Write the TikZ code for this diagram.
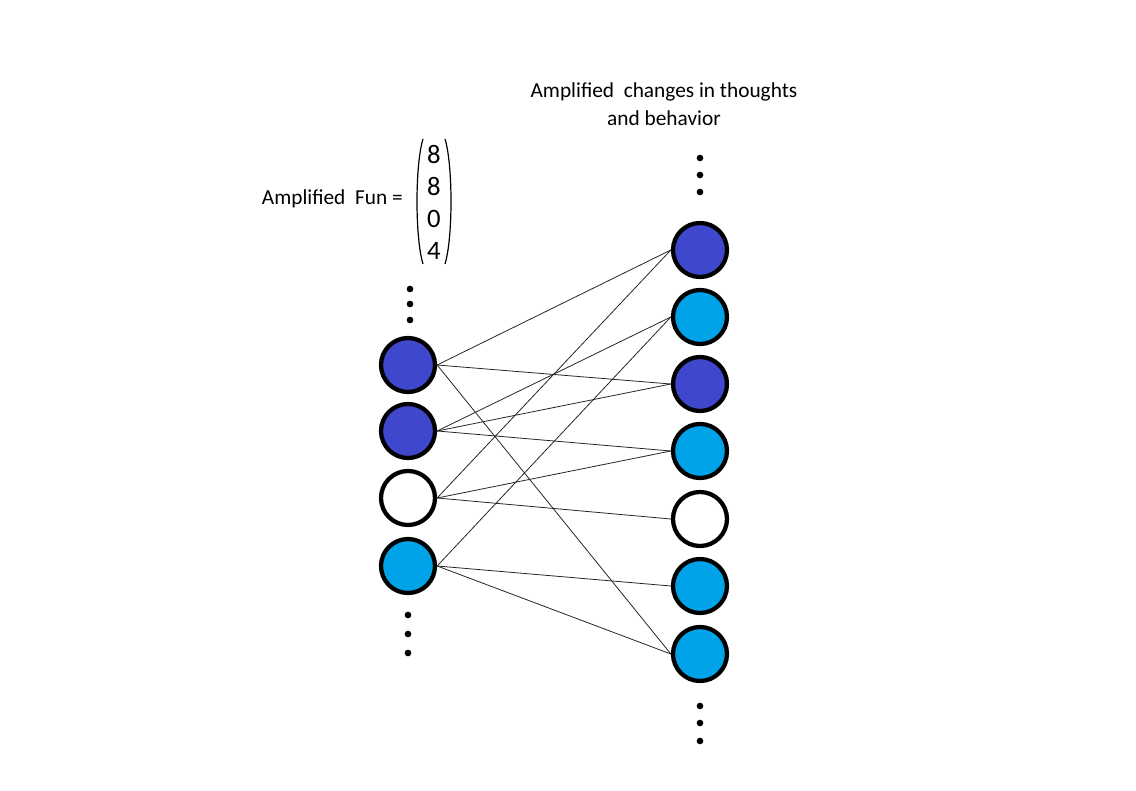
\documentclass[tikz,border=0pt]{standalone}
\usepackage{fontspec}
\setmainfont{Carlito}
\begin{document}
\begin{tikzpicture}[x=0.75pt,y=-0.75pt,
  neuron/.style={circle,draw=black,line width=3.2pt,minimum size=40.5pt,inner sep=0pt},
  dkb/.style={neuron,fill=indigoc},
  ltb/.style={neuron,fill=turqc},
  wht/.style={neuron,fill=white},
  link/.style={line width=0.6pt,draw=black!85},
  dotc/.style={circle,fill=black,inner sep=0pt,minimum size=5pt},
  lbl/.style={font=\fontsize{16}{20}\selectfont,inner sep=0pt},
  num/.style={font=\fontsize{20}{24}\selectfont,inner sep=0pt},
  paren/.style={line width=0.9pt}]
\definecolor{indigoc}{RGB}{63,72,204}
\definecolor{turqc}{RGB}{0,162,232}
\useasboundingbox (0,0) rectangle (1136,791);

% left column
\node[dkb] (L1) at (408,365) {};
\node[dkb] (L2) at (408,431) {};
\node[wht] (L3) at (408,498) {};
\node[ltb] (L4) at (408,566) {};

% right column
\node[dkb] (R1) at (700,250) {};
\node[ltb] (R2) at (700,317) {};
\node[dkb] (R3) at (700,384) {};
\node[ltb] (R4) at (700,451) {};
\node[wht] (R5) at (700,519) {};
\node[ltb] (R6) at (700,586) {};
\node[ltb] (R7) at (700,654) {};

% connections
\draw[link] (L1.east) -- (R1.west);
\draw[link] (L1.east) -- (R3.west);
\draw[link] (L1.east) -- (R7.west);
\draw[link] (L2.east) -- (R2.west);
\draw[link] (L2.east) -- (R3.west);
\draw[link] (L2.east) -- (R4.west);
\draw[link] (L3.east) -- (R1.west);
\draw[link] (L3.east) -- (R4.west);
\draw[link] (L3.east) -- (R5.west);
\draw[link] (L4.east) -- (R2.west);
\draw[link] (L4.east) -- (R6.west);
\draw[link] (L4.east) -- (R7.west);

% dots
\node[dotc] (a1) at (410,289) {};
\node[dotc] (a2) at (410,304) {};
\node[dotc] (a3) at (410,320) {};
\node[dotc] (b1) at (408,615) {};
\node[dotc] (b2) at (408,634) {};
\node[dotc] (b3) at (408,653) {};
\node[dotc] (c1) at (700,158) {};
\node[dotc] (c2) at (700,175) {};
\node[dotc] (c3) at (700,192) {};
\node[dotc] (d1) at (700,706) {};
\node[dotc] (d2) at (700,723) {};
\node[dotc] (d3) at (700,741) {};

% labels
\node[lbl] (t1) at (664,92) {Amplified\ \ changes in thoughts};
\node[lbl] (t2) at (664,118) {and behavior};
\node[lbl,anchor=east] (t3) at (403,199) {Amplified\ \ Fun =};

% vector
\node[num] (n1) at (434,154) {8};
\node[num] (n2) at (434,186) {8};
\node[num] (n3) at (434,219) {0};
\node[num] (n4) at (434,251) {4};
\draw[paren] (423,139) .. controls (415,165) and (415,238) .. (423,264);
\draw[paren] (445,139) .. controls (453,165) and (453,238) .. (445,264);
\end{tikzpicture}
\end{document}
